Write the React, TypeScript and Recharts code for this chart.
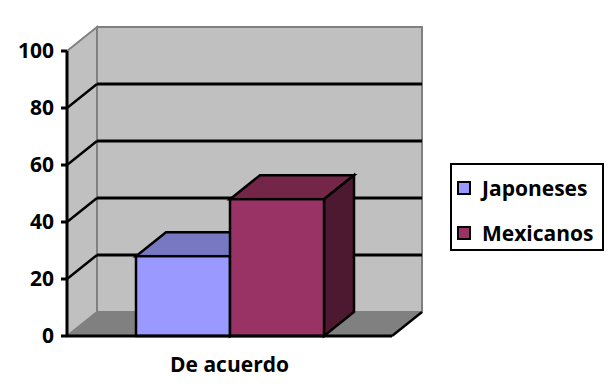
import { BarChart, Bar, XAxis, YAxis, ReferenceArea, Legend } from 'recharts';

const categories = ['De acuerdo'];
const japoneses = [28];
const mexicanos = [48];
const yTicks = [0, 20, 40, 60, 80, 100];
const gridValues = [20, 40, 60, 80];

const series = [
  { key: 'Japoneses', front: '#9999FF', top: '#7777C2', side: '#5555A0' },
  { key: 'Mexicanos', front: '#993366', top: '#732648', side: '#4C1930' },
];

const data = categories.map((name, i) => ({
  name,
  Japoneses: japoneses[i],
  Mexicanos: mexicanos[i],
}));

const DX = 30;
const DY = 24;
const FONT = '"Open Sans", Lato, sans-serif';

const Walls = (props: any) => {
  const { x, y, width, height } = props;
  const b = y + height;
  return (
    <g>
      <polygon
        points={`${x},${y} ${x + DX},${y - DY} ${x + DX},${b - DY} ${x},${b}`}
        fill="#C0C0C0"
        stroke="#808080"
        strokeWidth={2}
      />
      <rect x={x + DX} y={y - DY} width={width} height={height} fill="#C0C0C0" stroke="#808080" strokeWidth={2} />
      <polygon
        points={`${x},${b} ${x + DX},${b - DY} ${x + width + DX},${b - DY} ${x + width},${b}`}
        fill="#808080"
      />
      <line x1={x + width} y1={b} x2={x + width + DX} y2={b - DY} stroke="#000" strokeWidth={2.5} />
    </g>
  );
};

const GridLine = (props: any) => {
  const { x, y, width } = props;
  return (
    <g>
      <line x1={x} y1={y} x2={x + DX} y2={y - DY} stroke="#000" strokeWidth={2.5} />
      <line x1={x + DX} y1={y - DY} x2={x + width + DX} y2={y - DY} stroke="#000" strokeWidth={3} />
    </g>
  );
};

const makeBox = (s: any) => (props: any) => {
  const { x, y, width, height } = props;
  const b = y + height;
  return (
    <g stroke="#000" strokeWidth={2.5} strokeLinejoin="miter">
      <polygon points={`${x},${y} ${x + DX},${y - DY} ${x + width + DX},${y - DY} ${x + width},${y}`} fill={s.top} />
      <polygon
        points={`${x + width},${y} ${x + width + DX},${y - DY} ${x + width + DX},${b - DY} ${x + width},${b}`}
        fill={s.side}
      />
      <rect x={x} y={y} width={width} height={height} fill={s.front} />
    </g>
  );
};

const LegendBox = () => (
  <div
    style={{
      width: 154,
      height: 88,
      boxSizing: 'border-box',
      border: '2.5px solid #000',
      background: '#fff',
      fontFamily: FONT,
      fontWeight: 700,
      fontSize: 21,
      paddingTop: 5,
      paddingLeft: 5,
    }}
  >
    {series.map((s) => (
      <div key={s.key} style={{ display: 'flex', alignItems: 'center', height: 36, marginBottom: 9 }}>
        <span
          style={{
            display: 'inline-block',
            width: 14,
            height: 14,
            boxSizing: 'border-box',
            border: '2px solid #000',
            background: s.front,
            marginRight: 11,
          }}
        />
        <span>{s.key}</span>
      </div>
    ))}
  </div>
);

export default function App() {
  return (
    <div style={{ position: 'absolute', left: 0, top: 0, fontFamily: FONT }}>
      <BarChart
        width={615}
        height={387}
        data={data}
        margin={{ top: 51, right: 223, left: 7, bottom: 11 }}
        barCategoryGap={69}
        barGap={0}
      >
        <ReferenceArea y1={0} y2={100} shape={<Walls />} />
        {gridValues.map((v) => (
          <ReferenceArea key={v} y1={0} y2={v} shape={<GridLine />} />
        ))}
        <XAxis
          dataKey="name"
          height={40}
          axisLine={{ stroke: '#000', strokeWidth: 3 }}
          tickLine={false}
          tickSize={0}
          tickMargin={21}
          tick={{ fill: '#000', fontSize: 21, fontWeight: 700, fontFamily: FONT }}
        />
        <YAxis
          domain={[0, 100]}
          ticks={yTicks}
          width={60}
          axisLine={{ stroke: '#000', strokeWidth: 3 }}
          tickLine={{ stroke: '#000', strokeWidth: 3 }}
          tickSize={6}
          tickMargin={7}
          tick={{ fill: '#000', fontSize: 21, fontWeight: 700, fontFamily: FONT }}
        />
        <Legend
          layout="horizontal"
          align="center"
          verticalAlign="middle"
          content={<LegendBox />}
          wrapperStyle={{ left: 450, top: 163, width: 154 }}
        />
        {series.map((s) => (
          <Bar key={s.key} dataKey={s.key} isAnimationActive={false} shape={makeBox(s)} />
        ))}
      </BarChart>
    </div>
  );
}
